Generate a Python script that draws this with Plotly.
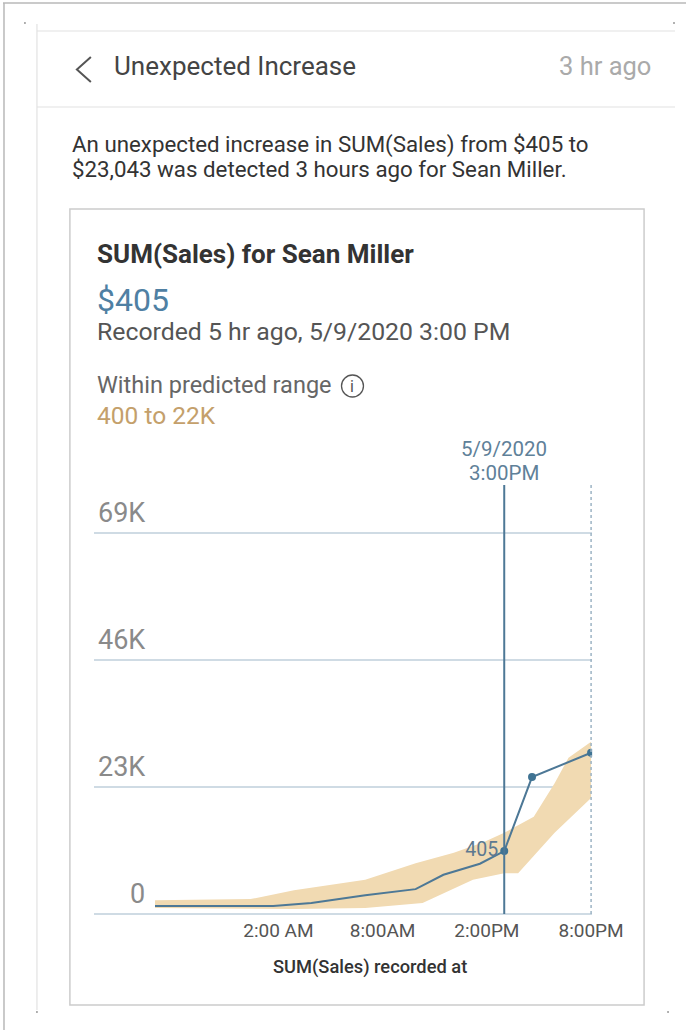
import plotly.graph_objects as go

W, H = 689, 1030          # reference picture size (paper fractions use these)
FIG_W = 720               # css width that ends up as 689 px in the photo

# ---------------- data ----------------
# hours relative to 5/9/2020 00:00 ; values in $
line_hours = [-5.1, 1.7, 3.9, 7.0, 9.9, 11.5, 13.6, 15.0, 16.6, 20.0]
line_sales = [1450, 1450, 2000, 3400, 4500, 7100, 9100, 11400, 24800, 29200]

marker_hours = [15.0, 16.6, 20.0]
marker_sales = [11400, 24800, 29200]
marker_labels = ["405", "", ""]

band_upper_hours = [-5.1, 0.4, 2.9, 7.0, 9.9, 12.1, 13.8, 15.0, 16.7, 17.9, 18.7, 20.0]
band_upper_sales = [2500, 2700, 4300, 6200, 9200, 11100, 13000, 14700, 17600, 23700, 28300, 31200]
band_lower_hours = [-5.1, 2.9, 7.0, 10.3, 11.5, 13.2, 15.0, 15.8, 17.9, 20.0]
band_lower_sales = [1100, 900, 1100, 2000, 3800, 6200, 7400, 7400, 14700, 21000]

y_tick_vals = [0, 23000, 46000, 69000]
y_tick_text = ["0", "23K", "46K", "69K"]
x_tick_vals = [2, 8, 14, 20]
x_tick_text = ["2:00 AM", "8:00AM", "2:00PM", "8:00PM"]

selected_hour = 15
last_hour = 20
selected_label_lines = ["5/9/2020", "3:00PM"]

header_title = "Unexpected Increase"
header_time = "3 hr ago"
body_lines = ["An unexpected increase in SUM(Sales) from $405 to",
              "$23,043 was detected 3 hours ago for Sean Miller."]
card_title = "SUM(Sales) for Sean Miller"
card_value = "$405"
card_recorded = "Recorded 5 hr ago, 5/9/2020 3:00 PM"
card_range_label = "Within predicted range"
card_range_value = "400 to 22K"
x_axis_title = "SUM(Sales) recorded at"

# ---------------- style ----------------
FONT = "Roboto"
BLUE = "#4d7896"
TAN = "#f1dab2"
GRID = "#cfdbe4"

def X(px):
    return px / W

def Y(py):
    return 1 - py / H

fig = go.Figure()

# predicted range band
fig.add_trace(go.Scatter(
    x=band_upper_hours + band_lower_hours[::-1],
    y=band_upper_sales + band_lower_sales[::-1],
    fill="toself", fillcolor=TAN, line=dict(width=0), mode="lines",
    hoverinfo="skip", showlegend=False))

# actual line
fig.add_trace(go.Scatter(
    x=line_hours, y=line_sales, mode="lines",
    line=dict(color=BLUE, width=2), showlegend=False))

# markers
fig.add_trace(go.Scatter(
    x=marker_hours, y=marker_sales, mode="markers+text",
    marker=dict(color="#3f7393", size=8),
    text=marker_labels, textposition="middle left",
    textfont=dict(family=FONT, size=19.5, color="#5d7990"),
    showlegend=False))

y_top = 77700
x_range = [-8.62, 20.06]

fig.update_layout(
    width=FIG_W, height=H, autosize=False,
    margin=dict(l=0, r=0, t=0, b=0, pad=0),
    paper_bgcolor="white", plot_bgcolor="white",
    font=dict(family=FONT, color="#333"),
    xaxis=dict(domain=[X(94), X(593)], range=x_range, showgrid=False,
               zeroline=False, showline=False, ticks="",
               tickvals=x_tick_vals, ticktext=x_tick_text,
               tickfont=dict(family=FONT, size=19, color="#555"),
               ticklabelstandoff=3, fixedrange=True),
    yaxis=dict(domain=[Y(914), Y(485)], range=[0, y_top], showgrid=True,
               gridcolor=GRID, gridwidth=1.5, zeroline=True,
               zerolinecolor=GRID, zerolinewidth=1.5,
               tickvals=y_tick_vals, showticklabels=False, ticks="",
               showline=False, fixedrange=True),
)

shapes = []
# outer frame (top and left)
shapes.append(dict(type="line", xref="paper", yref="paper", x0=X(3), x1=X(687), y0=Y(3), y1=Y(3),
                   line=dict(color="#b8b8b8", width=1.5)))
shapes.append(dict(type="line", xref="paper", yref="paper", x0=X(4), x1=X(4), y0=Y(3), y1=Y(1030),
                   line=dict(color="#b8b8b8", width=1.5)))
# panel lines
shapes.append(dict(type="line", xref="paper", yref="paper", x0=X(37), x1=X(37), y0=Y(24), y1=Y(1010),
                   line=dict(color="#e2e2e2", width=1.2)))
shapes.append(dict(type="line", xref="paper", yref="paper", x0=X(37), x1=X(676), y0=Y(31), y1=Y(31),
                   line=dict(color="#e2e2e2", width=1.2)))
shapes.append(dict(type="line", xref="paper", yref="paper", x0=X(37), x1=X(676), y0=Y(107), y1=Y(107),
                   line=dict(color="#e2e2e2", width=1.2)))
# tiny corner marks
for cx, cy in [(25, 23), (675, 23), (37, 1012), (669, 1012)]:
    shapes.append(dict(type="circle", xref="paper", yref="paper",
                       x0=X(cx - 1), x1=X(cx + 1), y0=Y(cy - 1), y1=Y(cy + 1),
                       line=dict(width=0), fillcolor="#999"))
# back chevron
shapes.append(dict(type="path", xref="paper", yref="paper",
                   path=f"M {X(91)} {Y(57)} L {X(77)} {Y(69.5)} L {X(91)} {Y(82)}",
                   line=dict(color="#555", width=2)))
# card
shapes.append(dict(type="rect", xref="paper", yref="paper", x0=X(70), x1=X(645), y0=Y(209), y1=Y(1005),
                   line=dict(color="#cccccc", width=1.5), fillcolor="rgba(0,0,0,0)", layer="below"))
# info icon circle
shapes.append(dict(type="circle", xref="paper", yref="paper", x0=X(342), x1=X(364), y0=Y(375), y1=Y(397),
                   line=dict(color="#555", width=1.3)))
# selected time line and last time dotted line
shapes.append(dict(type="line", xref="x", yref="y", x0=selected_hour, x1=selected_hour, y0=0, y1=y_top,
                   line=dict(color=BLUE, width=2)))
shapes.append(dict(type="line", xref="x", yref="y", x0=last_hour, x1=last_hour, y0=0, y1=y_top,
                   line=dict(color="#9cb3c4", width=1.5, dash="dot")))
fig.update_layout(shapes=shapes)

ann = []
def text(t, px, py, size, color, anchor="left", weight="normal"):
    ann.append(dict(text=t, xref="paper", yref="paper", x=X(px), y=Y(py), xanchor=anchor,
                    yanchor="middle", showarrow=False,
                    font=dict(family=FONT, size=size, color=color, weight=weight)))

text(header_title, 112, 66, 26, "#444")
text(header_time, 654, 66, 25.5, "#aaaaaa", anchor="right")
text(body_lines[0], 70, 145, 22.3, "#333")
text(body_lines[1], 70, 169, 22.3, "#333")
text(card_title, 95, 254, 26, "#333", weight="bold")
text(card_value, 95, 300, 32, "#4f80a3")
text(card_recorded, 95, 331, 24.8, "#555")
text(card_range_label, 95, 385, 23.5, "#666")
text("i", 353, 386.5, 16, "#555", anchor="center")
text(card_range_value, 95, 415, 24.5, "#c4a06b")
text(x_axis_title, 371, 967, 18.3, "#333", anchor="center", weight=500)

# y tick labels placed above gridlines (right-aligned), using y axis scale
for v, t in zip(y_tick_vals, y_tick_text):
    ann.append(dict(text=t, xref="paper", yref="y", x=X(147), y=v, xanchor="right",
                    yanchor="middle", yshift=20, showarrow=False,
                    font=dict(family=FONT, size=27, color="#8a8a8a")))

# selected time label
for i, t in enumerate(selected_label_lines):
    ann.append(dict(text=t, xref="x", yref="paper", x=selected_hour, y=Y(449 + 24 * i),
                    xanchor="center", yanchor="middle", showarrow=False,
                    font=dict(family=FONT, size=20.5, color="#5f8199")))

fig.update_layout(annotations=ann)

post = ("document.documentElement.style.margin='0';"
        "document.body.style.margin='0';document.body.style.padding='0';"
        "document.body.style.overflow='hidden';"
        "document.documentElement.style.overflow='hidden';")

fig.write_html("out.html", include_plotlyjs=True, config={"displayModeBar": False},
               post_script=post)
